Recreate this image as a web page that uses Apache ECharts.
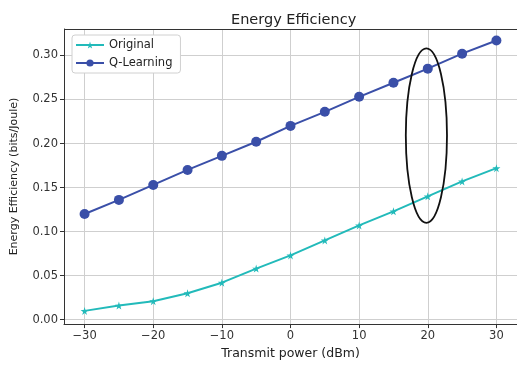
<!DOCTYPE html>
<html>
<head>
<meta charset="utf-8">
<script src="https://cdn.jsdelivr.net/npm/echarts@6/dist/echarts.min.js"></script>
<style>
  html, body { margin: 0; padding: 0; background: #fff; }
  #chart { width: 517px; height: 365px; }
</style>
</head>
<body>
<div id="chart"></div>
<script>
// transmit power (dBm)
var power = [-30, -25, -20, -15, -10, -5, 0, 5, 10, 15, 20, 25, 30];
// energy efficiency (bits/Joule)
var original = [0.010, 0.016, 0.021, 0.030, 0.042, 0.058, 0.073, 0.090, 0.107, 0.123, 0.140, 0.157, 0.172];
var qLearning = [0.120, 0.136, 0.153, 0.170, 0.186, 0.202, 0.220, 0.236, 0.253, 0.269, 0.285, 0.302, 0.317];
// tick labels
var xTicks = [-30, -20, -10, 0, 10, 20, 30];
var yTicks = [0, 0.05, 0.10, 0.15, 0.20, 0.25, 0.30];
// highlight ellipse: centre (dBm, value) and half sizes
var ellipseMark = [[19.8, 0.209, 3.0, 0.099]];

var font = 'DejaVu Sans';
var starPath = 'path://M50,0 L61,35 L98,35 L68,57 L79,91 L50,70 L21,91 L32,57 L2,35 L39,35 Z';

function pair(xs, ys) {
  return xs.map(function (x, i) { return [x, ys[i]]; });
}

var chart = echarts.init(document.getElementById('chart'), null, { renderer: 'canvas' });

var option = {
  animation: false,
  backgroundColor: '#fff',
  title: {
    text: 'Energy Efficiency',
    left: 226,
    top: 8,
    textStyle: { fontFamily: font, fontSize: 14.5, fontWeight: 'normal', color: '#222' }
  },
  legend: {
    left: 72,
    top: 35,
    orient: 'vertical',
    itemWidth: 28,
    itemHeight: 9,
    itemGap: 6,
    padding: [4, 8, 4, 3],
    borderColor: '#d0d0d0',
    borderWidth: 1,
    borderRadius: 3,
    backgroundColor: '#fff',
    textStyle: { fontFamily: font, fontSize: 11.5, color: '#222' },
    data: ['Original', 'Q-Learning']
  },
  grid: { left: 64, top: 29, width: 456, height: 297 },
  xAxis: {
    type: 'value',
    min: -33,
    max: 33,
    name: 'Transmit power (dBm)',
    nameLocation: 'middle',
    nameGap: 21,
    nameTextStyle: { fontFamily: font, fontSize: 12.5, color: '#222' },
    axisLine: { onZero: false, lineStyle: { color: '#333', width: 1 } },
    axisTick: { show: true, length: 4, lineStyle: { color: '#333' }, customValues: xTicks },
    axisLabel: {
      fontFamily: font, fontSize: 11.5, color: '#333', margin: 6,
      customValues: xTicks,
      formatter: function (v) { return String(v).replace('-', '\u2212'); }
    },
    splitLine: { show: true, lineStyle: { color: '#cfcfcf', width: 1 } }
  },
  yAxis: {
    type: 'value',
    min: -0.005,
    max: 0.33,
    name: 'Energy Efficiency (bits/Joule)',
    nameLocation: 'middle',
    nameGap: 44,
    nameTextStyle: { fontFamily: font, fontSize: 11, color: '#222' },
    axisLine: { show: true, onZero: false, lineStyle: { color: '#333', width: 1 } },
    axisTick: { show: true, length: 4, lineStyle: { color: '#333' }, customValues: yTicks },
    axisLabel: {
      fontFamily: font, fontSize: 11.5, color: '#333', margin: 6,
      customValues: yTicks,
      formatter: function (v) { return v.toFixed(2); }
    },
    splitLine: { show: true, lineStyle: { color: '#cfcfcf', width: 1 } }
  },
  series: [
    {
      name: 'Original',
      type: 'line',
      data: pair(power, original),
      color: '#22baba',
      symbol: starPath,
      symbolSize: 8,
      lineStyle: { width: 2 },
      z: 3
    },
    {
      name: 'Q-Learning',
      type: 'line',
      data: pair(power, qLearning),
      color: '#3a4fa8',
      symbol: 'circle',
      symbolSize: 10,
      lineStyle: { width: 2 },
      z: 3
    },
    {
      type: 'custom',
      data: ellipseMark,
      silent: true,
      z: 5,
      renderItem: function (params, api) {
        var c = api.coord([api.value(0), api.value(1)]);
        var e = api.coord([api.value(0) + api.value(2), api.value(1) + api.value(3)]);
        return {
          type: 'ellipse',
          shape: { cx: c[0], cy: c[1], rx: Math.abs(e[0] - c[0]), ry: Math.abs(c[1] - e[1]) },
          style: { fill: 'none', stroke: '#111', lineWidth: 1.8 }
        };
      }
    }
  ],
  graphic: [
    {
      type: 'line',
      shape: { x1: 64, y1: 29.5, x2: 520, y2: 29.5 },
      style: { stroke: '#333', lineWidth: 1 },
      z: 10
    }
  ]
};

chart.setOption(option);
</script>
</body>
</html>
